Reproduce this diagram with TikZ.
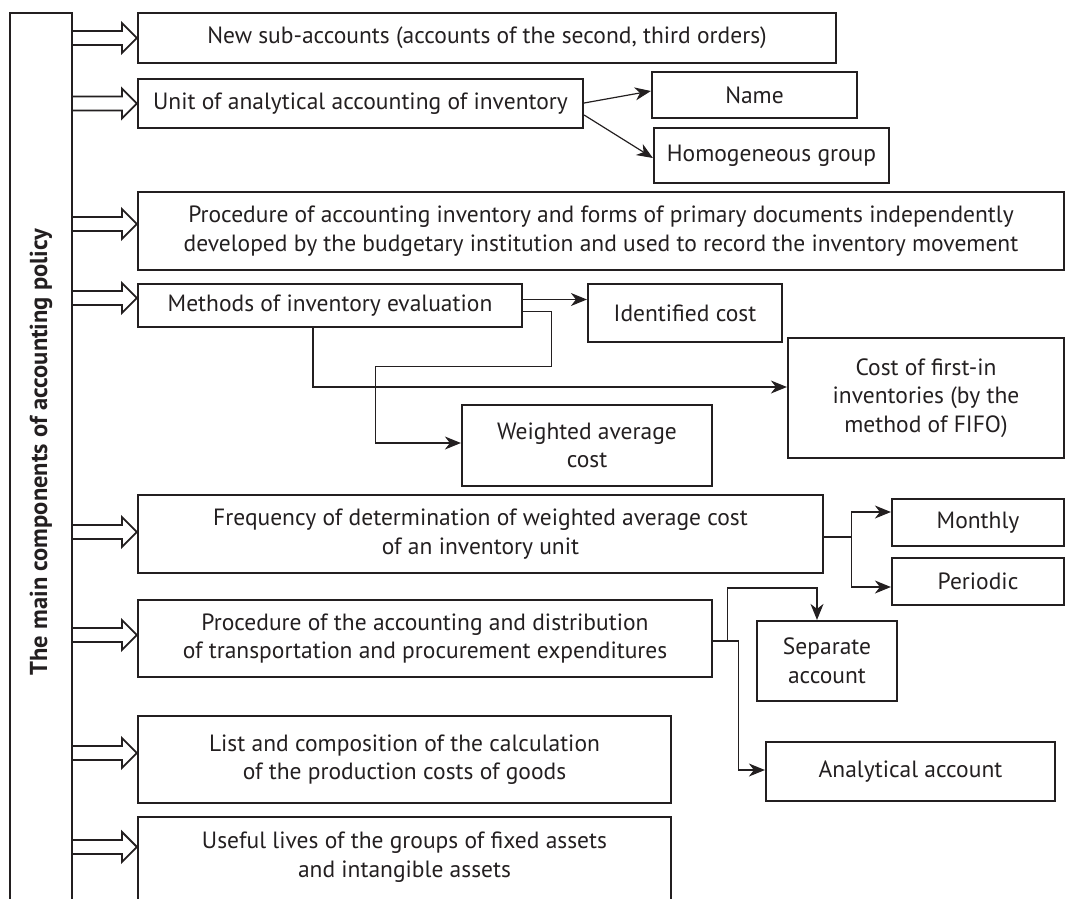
\documentclass[tikz,border=0pt]{standalone}
\usepackage{fontspec}
\setmainfont{PT Sans}
\usetikzlibrary{arrows.meta,calc}
\definecolor{ink}{HTML}{231F20}
\tikzset{
  box/.style={draw=ink, line width=2.2pt, inner sep=0pt, align=center, text=ink,
              font=\fontsize{23.5}{28.5}\selectfont},
  conn/.style={draw=ink, line width=1.2pt, -{Stealth[length=16pt,width=13pt,inset=5pt]}},
  blockarr/.style={draw=ink, line width=1.8pt, line join=miter},
  titletext/.style={text=ink, font=\fontsize{24.5}{28}\selectfont\bfseries, rotate=90, inner sep=0pt}
}
% block arrow from the left bar to the point #1
\newcommand\blockarrow[1]{%
  \draw[blockarr] let \p1=(#1), \p2=(bar.east) in
    (\x2,\y1+7pt) -- (\x1-15pt,\y1+7pt) -- (\x1-15pt,\y1+15pt) -- (\x1,\y1)
    -- (\x1-15pt,\y1-15pt) -- (\x1-15pt,\y1-7pt) -- (\x2,\y1-7pt);}
\begin{document}
\begin{tikzpicture}[x=1pt,y=-1pt]
\clip (0,0) rectangle (1067,898);

% left bar with the rotated title
\node[draw=none, minimum width=62pt, minimum height=920pt, inner sep=0pt] (bar) at (41,473) {};
\draw[ink, line width=2.2pt] (bar.south west) -- (bar.north west) -- (bar.north east) -- (bar.south east);
\node[titletext] (title) at (41,452) {The main components of accounting policy};

% main components
\node[box, minimum width=698pt, minimum height=50pt] (b1) at (487,38)
  {New sub-accounts (accounts of the second, third orders)};
\node[box, minimum width=445pt, minimum height=49pt] (b2) at (360.5,103.5)
  {Unit of analytical accounting of inventory};
\node[box, minimum width=926pt, minimum height=78pt] (b3) at (601,231)
  {Procedure of accounting inventory and forms of primary documents independently\\
   developed by the budgetary institution and used to record the inventory movement};
\node[box, minimum width=384pt, minimum height=43pt] (b4) at (330,305.5)
  {Methods of inventory evaluation};
\node[box, minimum width=685pt, minimum height=78pt] (b5) at (480.5,534)
  {Frequency of determination of weighted average cost\\ of an inventory unit};
\node[box, minimum width=574pt, minimum height=77pt] (b6) at (425,638.5)
  {Procedure of the accounting and distribution\\ of transportation and procurement expenditures};
\node[box, minimum width=533pt, minimum height=87pt] (b7) at (404.5,759.5)
  {List and composition of the calculation\\ of the production costs of goods};
\node[box, minimum width=533pt, minimum height=110pt] (b8) at (404.5,872) {};
\node[box, draw=none] (b8text) at (404.5,857)
  {Useful lives of the groups of fixed assets\\ and intangible assets};

% detail boxes
\node[box, minimum width=205pt, minimum height=46pt] (name) at (754.5,95) {Name};
\node[box, minimum width=235pt, minimum height=55pt] (homog) at (771.5,155.5) {Homogeneous group};
\node[box, minimum width=194pt, minimum height=58pt] (ident) at (685,313) {Identified cost};
\node[box, minimum width=276pt, minimum height=120pt] (fifo) at (926,398)
  {Cost of first-in\\ inventories (by the\\ method of FIFO)};
\node[box, minimum width=250pt, minimum height=81pt] (wavg) at (587,445.5)
  {Weighted average\\ cost};
\node[box, minimum width=172pt, minimum height=47pt] (monthly) at (978,522.5) {Monthly};
\node[box, minimum width=172pt, minimum height=47pt] (periodic) at (978,581.5) {Periodic};
\node[box, minimum width=140pt, minimum height=80pt] (separate) at (827,661) {Separate\\ account};
\node[box, minimum width=289pt, minimum height=59pt] (analyt) at (910.5,771.5) {Analytical account};

% block arrows from the bar
\blockarrow{b1.west}
\blockarrow{b2.west}
\blockarrow{$(b3.west)+(0,-7)$}
\blockarrow{$(b4.west)+(0,-7.5)$}
\blockarrow{$(b5.west)+(0,-2)$}
\blockarrow{$(b6.west)+(0,-3.5)$}
\blockarrow{$(b7.west)+(0,-6.5)$}
\blockarrow{$(b8.north west)+(0,31)$}

% unit of accounting
\draw[conn] ($(b2.east)+(0,-0.5)$) -- ($(name.west)+(0,-4)$);
\draw[conn] ($(b2.east)+(0,11.5)$) -- ($(homog.west)+(0,2.5)$);

% evaluation methods
\draw[conn] ($(b4.east)+(0,-6)$) coordinate (m1) -- (m1 -| ident.west);
\draw[conn] ($(b4.east)+(0,6)$) -- ++(28,0) -- ++(0,55) -- ++(-176,0) |- ($(wavg.west)+(0,-2.5)$);
\draw[conn] ($(b4.south)+(-17,0)$) |- ($(fifo.west)+(0,-11)$);

% frequency
\draw[ink, line width=1.2pt] ($(b5.east)+(0,3)$) -- ++(27,0) coordinate (j1);
\draw[conn] (j1) |- ($(monthly.west)+(0,-10.5)$);
\draw[conn] (j1) |- ($(periodic.west)+(0,5.5)$);

% transportation expenditures
\draw[ink, line width=1.2pt] ($(b6.east)+(0,2.5)$) -- ++(14,0) coordinate (j2);
\draw[conn] (j2) -- ++(0,-53) -| ($(separate.north)+(-10,0)$);
\draw[conn] (j2) -- ++(11,0) |- ($(analyt.west)+(0,-1.5)$);
\end{tikzpicture}
\end{document}
